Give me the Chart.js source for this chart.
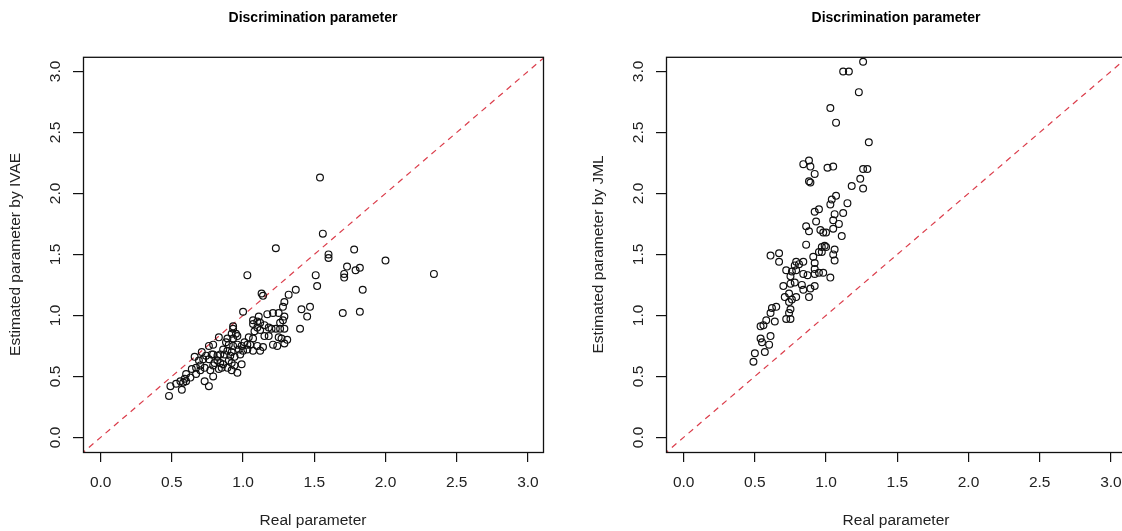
<!DOCTYPE html>
<html>
<head>
<meta charset="utf-8">
<script src="https://cdn.jsdelivr.net/npm/chart.js@4/dist/chart.umd.min.js"></script>
<style>
  html, body { margin: 0; padding: 0; background: #fff; overflow: hidden; }
  body { width: 1122px; height: 531px; position: relative; }
  canvas { position: absolute; top: 0; }
  #ivae { left: 0; }
  #jml { left: 583px; }
</style>
</head>
<body>
<canvas id="ivae" width="561" height="531"></canvas>
<canvas id="jml" width="561" height="531"></canvas>
<script>
// axis ticks shared by both panels
const tickValues = [0.0, 0.5, 1.0, 1.5, 2.0, 2.5, 3.0];
const xRange = [-0.124, 3.106];
const yRange = [-0.12, 3.12];
// y = x reference line
const diagX = [-0.2, 3.3];
const diagY = [-0.2, 3.3];

// left panel: real vs IVAE estimate
const ivaeReal = [
  1.23, 1.03, 1.51, 1.52, 1.37, 1.32, 1.13, 1.14, 1.29, 1.28, 1.41, 1.47, 1.45, 1.40, 1.00,
  1.17, 1.21, 1.25, 1.29, 1.11, 1.07, 1.10, 0.93, 0.93, 0.95, 1.18, 1.20, 1.23, 1.26, 1.29,
  1.08, 1.12, 1.25, 1.27, 1.31, 1.29, 1.24, 1.21, 1.15, 1.18, 1.04, 1.01, 1.05, 1.10, 1.12,
  1.14, 1.07, 1.03, 0.83, 0.76, 0.79, 0.88, 0.90, 0.93, 0.96, 0.97, 1.00, 0.98, 0.92, 0.89,
  0.86, 0.84, 0.82, 0.78, 0.74, 0.72, 0.69, 0.70, 0.73, 0.77, 0.80, 0.84, 0.86, 0.90, 0.92,
  0.94, 0.99, 0.96, 0.89, 0.83, 0.79, 0.73, 0.76, 0.67, 0.64, 0.60, 0.63, 0.59, 0.56, 0.53,
  0.57, 0.49, 0.48, 0.58, 0.60, 0.67, 0.70, 0.76, 0.79, 0.89, 0.93, 0.92, 0.96, 0.99, 1.03,
  1.07, 0.87, 0.91, 0.94, 0.82, 0.71, 0.66, 0.79, 0.85, 0.92, 1.10, 1.15, 1.26, 1.28, 1.07,
  1.12, 1.54, 1.56, 1.60, 1.60, 1.78, 2.00, 2.34, 1.73, 1.82, 1.79, 1.71, 1.71, 1.84, 1.70,
  1.82
];
const ivaeEst = [
  1.55, 1.33, 1.33, 1.24, 1.21, 1.17, 1.18, 1.16, 1.11, 1.07, 1.05, 1.07, 0.99, 0.89, 1.03,
  1.01, 1.02, 1.02, 0.99, 0.99, 0.96, 0.95, 0.91, 0.89, 0.85, 0.90, 0.89, 0.89, 0.89, 0.89,
  0.87, 0.88, 0.82, 0.81, 0.80, 0.77, 0.75, 0.76, 0.83, 0.83, 0.82, 0.78, 0.76, 0.75, 0.71,
  0.74, 0.71, 0.72, 0.82, 0.75, 0.76, 0.78, 0.76, 0.75, 0.76, 0.72, 0.71, 0.68, 0.70, 0.71,
  0.72, 0.68, 0.67, 0.68, 0.67, 0.64, 0.63, 0.59, 0.57, 0.55, 0.61, 0.61, 0.60, 0.63, 0.61,
  0.59, 0.60, 0.53, 0.57, 0.56, 0.50, 0.46, 0.42, 0.52, 0.56, 0.52, 0.49, 0.48, 0.46, 0.44,
  0.39, 0.42, 0.34, 0.45, 0.46, 0.57, 0.55, 0.64, 0.68, 0.81, 0.81, 0.85, 0.83, 0.75, 0.76,
  0.81, 0.68, 0.67, 0.66, 0.63, 0.70, 0.66, 0.59, 0.57, 0.55, 0.90, 0.92, 0.94, 0.96, 0.93,
  0.94, 2.13, 1.67, 1.50, 1.47, 1.54, 1.45, 1.34, 1.40, 1.39, 1.37, 1.34, 1.31, 1.21, 1.02,
  1.03
];

// right panel: real vs JML estimate
const jmlReal = [
  1.26, 1.12, 1.16, 1.23, 1.03, 1.07, 1.30, 0.84, 0.88, 0.89, 1.01, 1.05, 0.92, 0.88, 0.89,
  1.26, 1.29, 1.24, 1.18, 1.26, 1.07, 1.04, 1.03, 1.15, 0.95, 0.92, 1.06, 1.12, 1.05, 0.93,
  1.09, 0.86, 0.88, 0.96, 0.98, 1.00, 1.05, 1.11, 0.86, 0.97, 0.99, 1.00, 0.95, 0.97, 0.91,
  1.06, 1.05, 1.06, 0.61, 0.67, 0.67, 0.79, 0.84, 0.78, 0.81, 0.72, 0.76, 0.79, 0.84, 0.87,
  0.92, 0.92, 0.92, 0.95, 0.98, 1.03, 0.75, 0.70, 0.75, 0.78, 0.83, 0.84, 0.89, 0.92, 0.88,
  0.71, 0.74, 0.76, 0.79, 0.74, 0.75, 0.74, 0.72, 0.75, 0.62, 0.65, 0.61, 0.64, 0.58, 0.54,
  0.56, 0.61, 0.54, 0.55, 0.60, 0.57, 0.50, 0.49
];
const jmlEst = [
  3.08, 3.00, 3.00, 2.83, 2.70, 2.58, 2.42, 2.24, 2.27, 2.22, 2.21, 2.22, 2.16, 2.10, 2.09,
  2.20, 2.20, 2.12, 2.06, 2.04, 1.98, 1.95, 1.91, 1.92, 1.87, 1.85, 1.83, 1.84, 1.78, 1.77,
  1.75, 1.73, 1.69, 1.70, 1.68, 1.68, 1.71, 1.65, 1.58, 1.56, 1.57, 1.56, 1.52, 1.52, 1.48,
  1.54, 1.50, 1.45, 1.49, 1.51, 1.44, 1.44, 1.44, 1.41, 1.42, 1.37, 1.36, 1.37, 1.34, 1.33,
  1.43, 1.38, 1.34, 1.35, 1.35, 1.31, 1.32, 1.24, 1.26, 1.27, 1.25, 1.21, 1.22, 1.24, 1.15,
  1.15, 1.18, 1.13, 1.15, 1.11, 1.05, 1.02, 0.97, 0.97, 1.06, 1.07, 1.02, 0.95, 0.96, 0.91,
  0.92, 0.83, 0.81, 0.78, 0.76, 0.70, 0.69, 0.62
];

const FONT = "'Liberation Sans', Arial, sans-serif";
const INK = '#111';

// R-style frame around the plotting region
const boxPlugin = {
  id: 'box',
  afterDraw(chart) {
    const { ctx, chartArea: a } = chart;
    ctx.save();
    ctx.strokeStyle = INK;
    ctx.lineWidth = 1.3;
    ctx.strokeRect(a.left + 0.5, a.top + 0.5, a.right - a.left, a.bottom - a.top);
    ctx.restore();
  }
};

function renderPanel(canvasId, xs, ys, yTitle) {
  const ctx = document.getElementById(canvasId);
  const points = xs.map((x, i) => ({ x, y: ys[i] }));
  const diag = diagX.map((x, i) => ({ x, y: diagY[i] }));

  return new Chart(ctx, {
    type: 'scatter',
    data: {
      datasets: [
        {
          data: points,
          pointStyle: 'circle',
          pointRadius: 3.4,
          borderColor: INK,
          backgroundColor: 'rgba(0,0,0,0)',
          borderWidth: 1.2,
        },
        {
          type: 'line',
          data: diag,
          borderColor: 'rgba(215, 40, 55, 0.9)',
          borderWidth: 1.2,
          borderDash: [6, 5],
          pointRadius: 0,
          fill: false,
        }
      ]
    },
    options: {
      responsive: false,
      animation: false,
      events: [],
      layout: { padding: { left: 0, right: 18, top: 0, bottom: 0 } },
      plugins: {
        legend: { display: false },
        tooltip: { enabled: false },
        title: {
          display: true,
          text: 'Discrimination parameter',
          color: '#000',
          fullSize: false,
          font: { family: FONT, size: 14, weight: 'bold' },
          padding: { top: 10, bottom: 30 }
        }
      },
      scales: {
        x: {
          type: 'linear',
          min: xRange[0],
          max: xRange[1],
          afterBuildTicks: s => { s.ticks = tickValues.map(v => ({ value: v })); },
          afterFit: s => { s.height = 79; },
          border: { display: false },
          grid: { drawOnChartArea: false, tickLength: 10, color: INK, lineWidth: 1.2 },
          ticks: {
            autoSkip: false, maxRotation: 0, padding: 11, color: '#222',
            font: { family: FONT, size: 15.5 },
            callback: v => v.toFixed(1)
          },
          title: {
            display: true, text: 'Real parameter', color: '#222',
            font: { family: FONT, size: 15.5 }, padding: { top: 0, bottom: 1 }
          }
        },
        y: {
          type: 'linear',
          min: yRange[0],
          max: yRange[1],
          afterBuildTicks: s => { s.ticks = tickValues.map(v => ({ value: v })); },
          afterFit: s => { s.width = 83; },
          border: { display: false },
          grid: { drawOnChartArea: false, tickLength: 10, color: INK, lineWidth: 1.2 },
          ticks: {
            autoSkip: false, minRotation: 90, maxRotation: 90, crossAlign: 'center',
            padding: 7, color: '#222',
            font: { family: FONT, size: 15.5 },
            callback: v => v.toFixed(1)
          },
          title: {
            display: true, text: yTitle, color: '#222',
            font: { family: FONT, size: 15.5 }, padding: { top: 6, bottom: 0 }
          }
        }
      }
    },
    plugins: [boxPlugin]
  });
}

renderPanel('ivae', ivaeReal, ivaeEst, 'Estimated parameter by IVAE');
renderPanel('jml', jmlReal, jmlEst, 'Estimated parameter by JML');
</script>
</body>
</html>
